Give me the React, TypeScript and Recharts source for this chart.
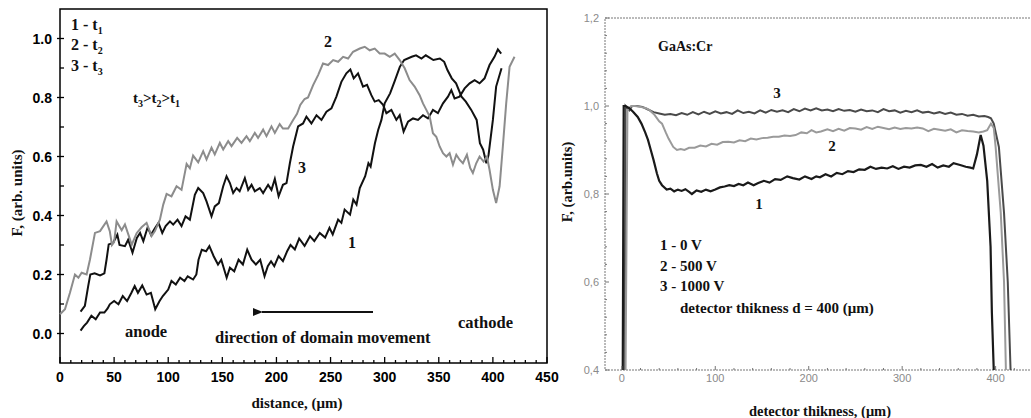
import React from 'react';
import { LineChart, Line, XAxis, YAxis, ReferenceArea } from 'recharts';

// ---- left panel: domain profiles, F vs distance ----
const leftCurve1: [number, number][] = [
  [19, 0.01], [22, 0.025], [25, 0.037], [29, 0.06], [33, 0.048], [37, 0.071], [41, 0.071], [44, 0.085],
  [46, 0.099], [50, 0.11], [54, 0.099], [58, 0.127], [62, 0.11], [66, 0.138], [69, 0.161], [72, 0.138],
  [76, 0.163], [80, 0.132], [84, 0.138], [88, 0.082], [92, 0.11], [95, 0.127], [100, 0.149], [103, 0.178],
  [107, 0.166], [111, 0.189], [115, 0.178], [118, 0.194], [123, 0.183], [126, 0.2], [128, 0.25], [131, 0.284],
  [135, 0.279], [138, 0.296], [142, 0.262], [146, 0.234], [149, 0.25], [154, 0.189], [157, 0.223], [161, 0.211],
  [165, 0.25], [169, 0.234], [173, 0.284], [177, 0.25], [181, 0.234], [185, 0.25], [189, 0.194], [192, 0.228],
  [195, 0.245], [198, 0.228], [202, 0.262], [206, 0.245], [210, 0.28], [213, 0.3], [217, 0.285], [221, 0.322],
  [226, 0.297], [231, 0.33], [235, 0.313], [240, 0.341], [245, 0.325], [249, 0.358], [252, 0.336], [257, 0.386],
  [260, 0.375], [263, 0.42], [268, 0.403], [271, 0.454], [274, 0.437], [277, 0.493], [282, 0.533], [285, 0.577],
  [287, 0.566], [291, 0.645], [294, 0.69], [297, 0.724], [300, 0.78], [305, 0.814], [309, 0.853], [314, 0.904],
  [318, 0.927], [325, 0.938], [329, 0.943], [334, 0.932], [338, 0.943], [345, 0.927], [351, 0.932], [355, 0.921],
  [358, 0.893], [362, 0.865], [366, 0.848], [371, 0.803], [375, 0.786], [380, 0.758], [385, 0.724], [388, 0.645],
  [391, 0.623], [394, 0.577], [396, 0.606], [400, 0.724], [403, 0.837], [408, 0.899],
];

const leftCurve2: [number, number][] = [
  [0, 0.065], [4.6, 0.082], [9.2, 0.138], [13.8, 0.2], [17, 0.189], [20, 0.206], [24.6, 0.2], [27.7, 0.251],
  [32.3, 0.341], [37, 0.347], [43, 0.38], [46, 0.347], [48, 0.3], [50, 0.31], [52.3, 0.38], [57, 0.35],
  [60, 0.37], [64.6, 0.32], [66.2, 0.3], [70.8, 0.34], [75.4, 0.36], [80, 0.375], [84.6, 0.33], [87.7, 0.347],
  [92.3, 0.386], [95.4, 0.437], [98.5, 0.473], [103, 0.465], [107.7, 0.499], [112.3, 0.487], [117, 0.575],
  [120, 0.56], [123, 0.603], [127.7, 0.58], [132.3, 0.618], [135.4, 0.59], [140, 0.63], [143, 0.607],
  [147.7, 0.646], [150.8, 0.624], [155.4, 0.652], [158.5, 0.635], [163.7, 0.663], [167.7, 0.646], [172.3, 0.669],
  [175.4, 0.652], [180, 0.68], [183, 0.663], [187.7, 0.691], [190.8, 0.669], [195.4, 0.702], [198.5, 0.68],
  [203, 0.71], [206, 0.695], [210.8, 0.695], [215.4, 0.724], [219, 0.745], [222, 0.775], [226, 0.795],
  [229.2, 0.8], [233.9, 0.842], [238.5, 0.876], [243, 0.915], [247.7, 0.91], [252.4, 0.927], [257, 0.921],
  [261.6, 0.938], [266.2, 0.932], [270.8, 0.955], [277, 0.966], [281.6, 0.972], [286.2, 0.96], [290.8, 0.966],
  [295.4, 0.949], [300, 0.949], [304.7, 0.938], [309.3, 0.949], [313.9, 0.927], [318.5, 0.899], [323, 0.859],
  [327.7, 0.837], [332.3, 0.808], [335.4, 0.78], [338.5, 0.758], [341.6, 0.735], [344.6, 0.679], [347.7, 0.667],
  [350.8, 0.634], [353.9, 0.611], [357, 0.6], [360, 0.611], [363.1, 0.572], [366.2, 0.606], [369.2, 0.589],
  [372.3, 0.577], [376, 0.606], [379, 0.561], [381.5, 0.544], [384.6, 0.577], [387.7, 0.6], [391.4, 0.583],
  [394.5, 0.6], [396.9, 0.555], [400, 0.487], [403, 0.442], [406.2, 0.499], [409.2, 0.634], [412.3, 0.78],
  [415.4, 0.904], [420, 0.938],
];

const leftCurve3: [number, number][] = [
  [19, 0.074], [23, 0.094], [26, 0.16], [28, 0.2], [32, 0.204], [37, 0.197], [41, 0.204], [43, 0.25],
  [45, 0.302], [49, 0.307], [53, 0.335], [55, 0.3], [60, 0.296], [63, 0.318], [67, 0.274], [71, 0.324],
  [74, 0.341], [77, 0.313], [81, 0.36], [84, 0.335], [88, 0.358], [91, 0.375], [94.5, 0.341], [97.6, 0.364],
  [101.6, 0.38], [104.6, 0.369], [108.6, 0.386], [112.3, 0.364], [116, 0.397], [120, 0.386], [124.6, 0.47],
  [127.7, 0.493], [132.3, 0.476], [135.4, 0.448], [140, 0.397], [143, 0.431], [146.8, 0.442], [150.8, 0.499],
  [153.9, 0.533], [157, 0.51], [160, 0.476], [163.1, 0.493], [166, 0.482], [170.8, 0.527], [173.9, 0.487],
  [177, 0.504], [180, 0.482], [184.6, 0.493], [187.7, 0.476], [192.3, 0.504], [195.4, 0.487], [198.5, 0.524],
  [202, 0.465], [206, 0.504], [209.3, 0.51], [212.4, 0.577], [215.4, 0.634], [220, 0.702], [224.6, 0.712],
  [227.7, 0.735], [232.3, 0.712], [237, 0.74], [241.6, 0.724], [246.2, 0.752], [250.8, 0.763], [255.4, 0.803],
  [260, 0.853], [264.6, 0.882], [268.3, 0.895], [271.4, 0.865], [275.4, 0.882], [280, 0.837], [283.7, 0.843],
  [287.7, 0.808], [290.8, 0.786], [294.5, 0.791], [298.5, 0.775], [301.6, 0.747], [306.2, 0.758], [310.8, 0.724],
  [313.9, 0.74], [317.5, 0.684], [321.6, 0.718], [326.2, 0.729], [330.8, 0.724], [335.4, 0.74], [340, 0.729],
  [344.6, 0.758], [349.2, 0.747], [353.9, 0.78], [358.5, 0.803], [361.6, 0.825], [364.6, 0.797], [369.2, 0.803],
  [373.9, 0.831], [378.5, 0.848], [383.1, 0.859], [387.7, 0.848], [392.3, 0.865], [396.9, 0.91], [401.5, 0.938],
  [404.6, 0.963], [407.7, 0.949],
];

const leftXTicks = [0, 10, 20, 30, 40, 50, 60, 70, 80, 90, 100, 110, 120, 130, 140, 150, 160, 170, 180, 190, 200,
  210, 220, 230, 240, 250, 260, 270, 280, 290, 300, 310, 320, 330, 340, 350, 360, 370, 380, 390, 400, 410, 420,
  430, 440, 450];
const leftYTicks = [0, 0.1, 0.2, 0.3, 0.4, 0.5, 0.6, 0.7, 0.8, 0.9, 1.0];

// ---- right panel: GaAs:Cr detector, F vs thickness ----
const right0V: [number, number][] = [
  [1, 0.4], [2, 1.0], [4, 1.0], [8, 0.995], [12, 0.987], [17, 0.975], [21, 0.96], [25, 0.94], [28, 0.923],
  [31, 0.9], [34, 0.877], [37.5, 0.847], [40, 0.83], [43, 0.82], [48, 0.81], [52, 0.812], [56, 0.806],
  [60, 0.81], [64, 0.807], [68, 0.811], [72, 0.805], [75, 0.8], [80, 0.808], [85, 0.805], [90, 0.81],
  [95, 0.806], [100, 0.81], [105, 0.815], [110, 0.817], [115, 0.82], [120, 0.818], [125, 0.823], [130, 0.82],
  [135, 0.826], [141, 0.82], [146, 0.825], [152, 0.83], [158, 0.826], [164, 0.834], [170, 0.832], [177, 0.84],
  [183, 0.836], [190, 0.833], [196, 0.84], [203, 0.834], [208, 0.84], [212, 0.838], [218, 0.845], [224, 0.84],
  [230, 0.848], [236, 0.845], [242, 0.852], [248, 0.85], [254, 0.856], [260, 0.855], [266, 0.862], [272, 0.857],
  [278, 0.86], [284, 0.858], [290, 0.863], [296, 0.857], [302, 0.862], [308, 0.86], [314, 0.865], [320, 0.866],
  [326, 0.862], [332, 0.868], [338, 0.86], [344, 0.865], [350, 0.862], [355, 0.87], [362, 0.866], [368, 0.862],
  [373, 0.86], [376, 0.858], [380, 0.89], [384, 0.934], [387, 0.91], [391, 0.83], [394.6, 0.68], [396, 0.53],
  [398, 0.4],
];

const right500V: [number, number][] = [
  [4, 0.4], [6, 0.99], [10, 1.0], [14, 1.0], [20, 0.998], [26, 0.995], [30, 0.99], [35, 0.98], [40, 0.965],
  [43, 0.96], [47, 0.94], [50, 0.926], [55, 0.907], [59, 0.9], [63, 0.902], [67, 0.9], [72, 0.905], [78, 0.905],
  [84, 0.91], [90, 0.908], [96, 0.914], [102, 0.912], [108, 0.918], [114, 0.919], [120, 0.917], [126, 0.922],
  [132, 0.92], [138, 0.926], [144, 0.924], [150, 0.927], [156, 0.928], [162, 0.93], [168, 0.93], [174, 0.933],
  [180, 0.932], [186, 0.934], [192, 0.94], [198, 0.938], [203, 0.945], [208, 0.94], [213, 0.942], [220, 0.947],
  [226, 0.943], [232, 0.948], [238, 0.944], [244, 0.95], [250, 0.949], [256, 0.946], [262, 0.952], [268, 0.948],
  [274, 0.953], [280, 0.95], [286, 0.947], [292, 0.951], [298, 0.948], [304, 0.95], [310, 0.949], [316, 0.951],
  [322, 0.949], [328, 0.943], [334, 0.948], [340, 0.946], [346, 0.944], [352, 0.947], [358, 0.94], [364, 0.945],
  [370, 0.943], [376, 0.942], [382, 0.94], [387, 0.942], [391, 0.945], [395, 0.96], [398, 0.95], [400, 0.907],
  [405.5, 0.757], [409, 0.6], [411, 0.4],
];

const right1000V: [number, number][] = [
  [3, 0.4], [4, 1.0], [6, 0.995], [8, 0.99], [11, 1.0], [16, 1.0], [22, 0.998], [28, 0.992], [34, 0.986],
  [40, 0.983], [46, 0.98], [52, 0.982], [58, 0.979], [64, 0.984], [70, 0.98], [76, 0.986], [82, 0.981],
  [88, 0.987], [94, 0.982], [100, 0.988], [106, 0.983], [112, 0.986], [118, 0.982], [124, 0.99], [130, 0.984],
  [136, 0.987], [142, 0.983], [148, 0.99], [154, 0.985], [160, 0.991], [166, 0.987], [172, 0.99], [178, 0.986],
  [184, 0.993], [190, 0.988], [196, 0.994], [202, 0.99], [208, 0.995], [214, 0.99], [220, 0.992], [226, 0.988],
  [232, 0.993], [238, 0.989], [244, 0.991], [250, 0.987], [256, 0.992], [262, 0.988], [268, 0.99], [274, 0.986],
  [280, 0.993], [286, 0.988], [292, 0.99], [298, 0.985], [304, 0.989], [310, 0.986], [316, 0.99], [322, 0.985],
  [328, 0.987], [334, 0.983], [340, 0.986], [346, 0.982], [352, 0.985], [358, 0.98], [364, 0.982], [370, 0.978],
  [376, 0.98], [382, 0.976], [388, 0.977], [392, 0.975], [395, 0.972], [398, 0.96], [403.5, 0.907], [409, 0.757],
  [413, 0.6], [416, 0.4],
];

const rightXTicks = [0, 20, 40, 60, 80, 100, 120, 140, 160, 180, 200, 220, 240, 260, 280, 300, 320, 340, 360,
  380, 400, 420];
const rightYTicks = [0.4, 0.44, 0.48, 0.52, 0.56, 0.6, 0.64, 0.68, 0.72, 0.76, 0.8, 0.84, 0.88, 0.92, 0.96, 1.0,
  1.04, 1.08, 1.12, 1.16, 1.2];

const toPoints = (arr: [number, number][]) => arr.map(([x, y]) => ({ x, y }));

const serif = '"Liberation Serif", "Times New Roman", serif';
const sans = '"Liberation Sans", Arial, sans-serif';

const LeftXTick = ({ x, y, payload }: any) => {
  const major = payload.value % 50 === 0;
  return (
    <g>
      <line x1={x} x2={x} y1={y} y2={y - (major ? 6 : 3)} stroke="#000" strokeWidth={1.3} />
      {major && (
        <text x={x} y={y + 19} textAnchor="middle" fontFamily={sans} fontWeight="bold" fontSize={14} fill="#000">
          {payload.value}
        </text>
      )}
    </g>
  );
};

const LeftYTick = ({ x, y, payload }: any) => {
  const major = Math.round(payload.value * 10) % 2 === 0;
  return (
    <g>
      <line x1={x - (major ? 3 : 0)} x2={x + 4} y1={y} y2={y} stroke="#000" strokeWidth={1.3} />
      {major && (
        <text x={x - 8} y={y + 5} textAnchor="end" fontFamily={sans} fontWeight="bold" fontSize={14} fill="#000">
          {payload.value.toFixed(1)}
        </text>
      )}
    </g>
  );
};

const RightXTick = ({ x, y, payload }: any) => {
  const major = payload.value % 100 === 0;
  return (
    <g>
      <line x1={x} x2={x} y1={y} y2={y - (major ? 4 : 2)} stroke="#777" strokeWidth={1} />
      {major && (
        <text x={x} y={y + 12} textAnchor="middle" fontFamily={sans} fontSize={11} fill="#8a8a8a">
          {payload.value}
        </text>
      )}
    </g>
  );
};

const RightYTick = ({ x, y, payload }: any) => {
  const v = payload.value;
  const major = Math.abs(v * 5 - Math.round(v * 5)) < 1e-6;
  return (
    <g>
      <line x1={x} x2={x + (major ? 4 : 2)} y1={y} y2={y} stroke="#777" strokeWidth={1} />
      {major && (
        <text x={x - 6} y={y + 4} textAnchor="end" fontFamily={sans} fontSize={11} fill="#8a8a8a">
          {v.toFixed(1).replace('.', ',')}
        </text>
      )}
    </g>
  );
};

const bold = { fontFamily: serif, fontWeight: 'bold' as const, fill: '#111' };

export default function App() {
  return (
    <div style={{ position: 'absolute', left: 0, top: 0, width: 1031, height: 418, overflow: 'hidden', background: '#fff' }}>
      <div style={{ position: 'absolute', left: 0, top: 0 }}>
        <LineChart width={560} height={418} margin={{ top: 9, right: 13, bottom: 0, left: 0 }}>
          <XAxis type="number" dataKey="x" domain={[0, 450]} ticks={leftXTicks} interval={0}
            axisLine={false} tickLine={false} tickSize={0} tickMargin={0} height={55} tick={<LeftXTick />} />
          <YAxis type="number" dataKey="y" domain={[-0.1, 1.1]} ticks={leftYTicks} interval={0}
            axisLine={false} tickLine={false} tickSize={0} tickMargin={0} width={60} tick={<LeftYTick />} />
          <ReferenceArea x1={0} x2={450} y1={-0.1} y2={1.1} fill="none" stroke="#000" strokeWidth={1.5} />
          <Line data={toPoints(leftCurve1)} dataKey="y" type="linear" stroke="#111" strokeWidth={2} dot={false} isAnimationActive={false} />
          <Line data={toPoints(leftCurve3)} dataKey="y" type="linear" stroke="#111" strokeWidth={2} dot={false} isAnimationActive={false} />
          <Line data={toPoints(leftCurve2)} dataKey="y" type="linear" stroke="#8c8c8c" strokeWidth={2} dot={false} isAnimationActive={false} />
        </LineChart>
      </div>

      <div style={{ position: 'absolute', left: 545, top: 0 }}>
        <LineChart width={488} height={418} margin={{ top: 18, right: 0, bottom: 0, left: 0 }}>
          <XAxis type="number" dataKey="x" domain={[-18, 440]} ticks={rightXTicks} interval={0} allowDataOverflow
            axisLine={false} tickLine={false} tickSize={0} tickMargin={0} height={48} tick={<RightXTick />} />
          <YAxis type="number" dataKey="y" domain={[0.4, 1.2]} ticks={rightYTicks} interval={0} allowDataOverflow
            axisLine={false} tickLine={false} tickSize={0} tickMargin={0} width={60} tick={<RightYTick />} />
          <ReferenceArea x1={-18} x2={440} y1={0.4} y2={1.2} fill="none" stroke="#777" strokeWidth={1} strokeDasharray="2 1" />
          <Line data={toPoints(right1000V)} dataKey="y" type="linear" stroke="#4a4a4a" strokeWidth={2} dot={false} isAnimationActive={false} />
          <Line data={toPoints(right500V)} dataKey="y" type="linear" stroke="#9a9a9a" strokeWidth={2} dot={false} isAnimationActive={false} />
          <Line data={toPoints(right0V)} dataKey="y" type="linear" stroke="#1a1a1a" strokeWidth={2.2} dot={false} isAnimationActive={false} />
        </LineChart>
      </div>

      <svg width={1031} height={418} style={{ position: 'absolute', left: 0, top: 0, pointerEvents: 'none' }}>
        <defs>
          <marker id="arrowHead" markerWidth="10" markerHeight="8" refX="1" refY="4" orient="auto" markerUnits="userSpaceOnUse">
            <path d="M10,0 L0,4 L10,8 Z" fill="#111" />
          </marker>
        </defs>
        {/* left panel annotations */}
        <text x={71} y={30} fontSize={16} {...bold}>1 - t<tspan fontSize={10} dy={4}>1</tspan></text>
        <text x={71} y={50} fontSize={16} {...bold}>2 - t<tspan fontSize={10} dy={4}>2</tspan></text>
        <text x={71} y={71} fontSize={16} {...bold}>3 - t<tspan fontSize={10} dy={4}>3</tspan></text>
        <text x={133} y={103} fontSize={15} {...bold}>
          t<tspan fontSize={10} dy={4}>3</tspan><tspan dy={-4}>&gt;t</tspan><tspan fontSize={10} dy={4}>2</tspan>
          <tspan dy={-4}>&gt;t</tspan><tspan fontSize={10} dy={4}>1</tspan>
        </text>
        <text x={328} y={47} fontSize={16} textAnchor="middle" {...bold}>2</text>
        <text x={302} y={173} fontSize={16} textAnchor="middle" {...bold}>3</text>
        <text x={352} y={248} fontSize={16} textAnchor="middle" {...bold}>1</text>
        <text x={125} y={337} fontSize={16.5} {...bold}>anode</text>
        <text x={215} y={343} fontSize={16.5} {...bold}>direction of domain movement</text>
        <text x={458} y={328} fontSize={16.5} {...bold}>cathode</text>
        <line x1={373} y1={312} x2={262} y2={312} stroke="#111" strokeWidth={2} markerEnd="url(#arrowHead)" />
        <text x={297} y={408} fontSize={15} textAnchor="middle" {...bold}>distance, (μm)</text>
        <text x={0} y={0} fontSize={15} textAnchor="middle" {...bold} transform="translate(22,193) rotate(-90)">F, (arb. units)</text>

        {/* right panel annotations */}
        <text x={658} y={51} fontSize={14} {...bold}>GaAs:Cr</text>
        <text x={777} y={98} fontSize={15} textAnchor="middle" {...bold}>3</text>
        <text x={832} y={151} fontSize={15} textAnchor="middle" {...bold}>2</text>
        <text x={759} y={209} fontSize={15} textAnchor="middle" {...bold}>1</text>
        <text x={660} y={250} fontSize={15} {...bold}>1 - 0 V</text>
        <text x={660} y={271} fontSize={15} {...bold}>2 - 500 V</text>
        <text x={660} y={291} fontSize={15} {...bold}>3 - 1000 V</text>
        <text x={680} y={313} fontSize={15} {...bold}>detector thikness d = 400 (μm)</text>
        <text x={820} y={416} fontSize={14.5} textAnchor="middle" {...bold}>detector thikness, (μm)</text>
        <text x={0} y={0} fontSize={14.5} textAnchor="middle" {...bold} transform="translate(572,182) rotate(-90)">F, (arb.units)</text>
      </svg>
    </div>
  );
}
